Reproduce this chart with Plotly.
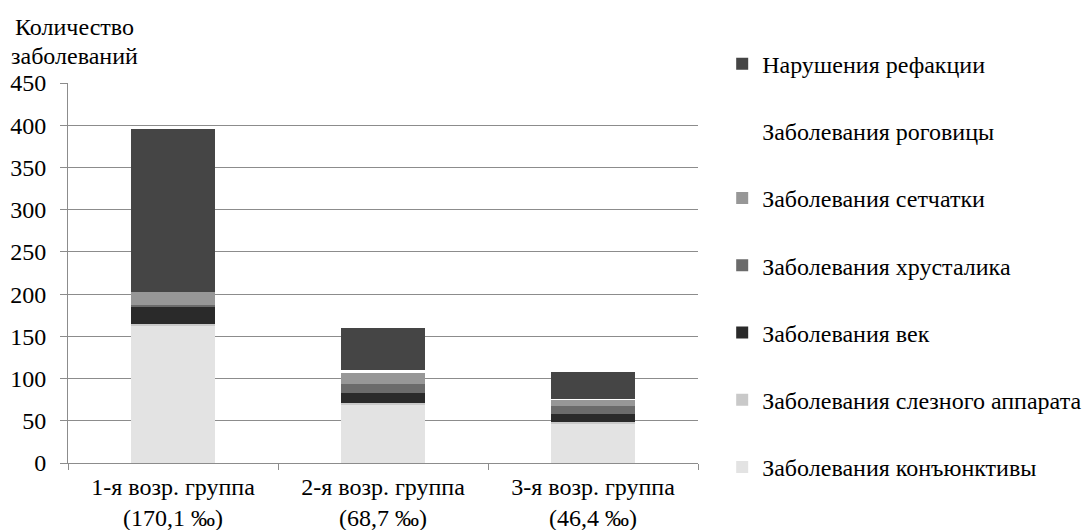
import plotly.graph_objects as go

categories = ["1-я возр. группа<br>(170,1 ‰)", "2-я возр. группа<br>(68,7 ‰)", "3-я возр. группа<br>(46,4 ‰)"]
series_names = [
    "Заболевания конъюнктивы",
    "Заболевания слезного аппарата",
    "Заболевания век",
    "Заболевания хрусталика",
    "Заболевания сетчатки",
    "Заболевания роговицы",
    "Нарушения рефакции",
]
conjunctiva = [163, 69, 46]
tear = [2, 2, 3]
eyelid = [20, 12, 9]
lens = [2, 11, 9]
retina = [16, 13, 8]
cornea = [0, 3, 1]
refraction = [193, 50, 32]
series_values = [conjunctiva, tear, eyelid, lens, retina, cornea, refraction]
colors = ["#e3e3e3", "#c9c9c9", "#2a2a2a", "#6b6b6b", "#979797", "#ffffff", "#454545"]
y_ticks = [0, 50, 100, 150, 200, 250, 300, 350, 400, 450]
title_lines = ["Количество", "заболеваний"]

FONT = "Liberation Serif, Times New Roman, serif"
FS = 24

fig = go.Figure()
n = len(series_names)
for i, (name, vals, col) in enumerate(zip(series_names, series_values, colors)):
    fig.add_trace(go.Bar(
        x=categories, y=vals, name=name,
        marker=dict(color=col, line=dict(width=0)),
        legendgroup=f"g{i}",
        legendrank=n - i,
    ))

fig.update_layout(
    barmode="stack",
    bargap=0.6,
    width=1092, height=530,
    margin=dict(l=68, r=394, t=83, b=67, autoexpand=False),
    paper_bgcolor="white", plot_bgcolor="white",
    font=dict(family=FONT, size=FS, color="black"),
    showlegend=True,
    legend=dict(
        x=1.0384, xanchor="left", xref="paper",
        y=1.109, yanchor="top",
        traceorder="grouped",
        tracegroupgap=33,
        maxheight=1000,
        font=dict(family=FONT, size=FS, color="black"),
        itemwidth=30,
        bgcolor="rgba(0,0,0,0)",
    ),
    annotations=[
        dict(text=title_lines[0], x=0.0111, y=1.187, xref="paper", yref="paper",
             xanchor="center", yanchor="top", showarrow=False,
             font=dict(family=FONT, size=FS, color="black")),
        dict(text=title_lines[1], x=0.0111, y=1.110, xref="paper", yref="paper",
             xanchor="center", yanchor="top", showarrow=False,
             font=dict(family=FONT, size=FS, color="black")),
    ],
)

fig.update_yaxes(
    range=[0, 450], tickvals=y_ticks, showgrid=True, gridcolor="#8c8c8c", gridwidth=1,
    showline=True, linecolor="#8c8c8c", linewidth=1, ticks="outside", ticklen=7,
    tickcolor="#8c8c8c", zeroline=False, automargin=False, ticklabelstandoff=9,
    tickfont=dict(family=FONT, size=FS, color="black"),
)
fig.update_xaxes(
    showline=True, linecolor="#8c8c8c", linewidth=1, ticks="outside", ticklen=6,
    tickcolor="#8c8c8c", tickson="boundaries", automargin=False, ticklabelstandoff=2,
    tickfont=dict(family=FONT, size=FS, color="black"),
)

fig.write_html(
    "out.html",
    config={"displayModeBar": False},
    post_script="document.body.style.margin='0';document.body.style.padding='0';",
)
